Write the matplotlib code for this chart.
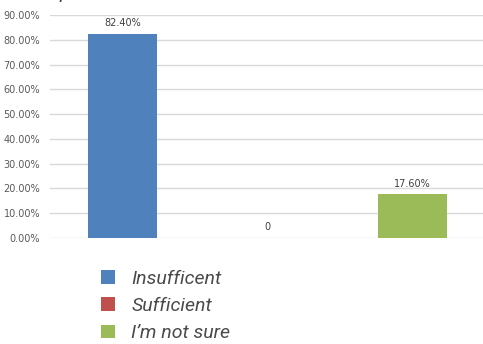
import matplotlib
matplotlib.use("Agg")
import matplotlib.pyplot as plt

categories = ["Insufficent", "Sufficient", "I’m not sure"]
values = [82.4, 0.0, 17.6]
value_labels = ["82.40%", "0", "17.60%"]
colors = ["#4F81BD", "#C0504D", "#9BBB59"]
yticks = [0, 10, 20, 30, 40, 50, 60, 70, 80, 90]
ytick_labels = ["0.00%", "10.00%", "20.00%", "30.00%", "40.00%", "50.00%",
                "60.00%", "70.00%", "80.00%", "90.00%"]

W, H = 483, 344
fig = plt.figure(figsize=(W / 100, H / 100), dpi=100)
ax = fig.add_axes([50 / W, (H - 238) / H, 435 / W, (238 - 15) / H])

x = list(range(len(categories)))
bars = ax.bar(x, values, width=0.48, color=colors, zorder=3)
ax.set_xlim(-0.5, 2.5)
ax.set_ylim(0, 90)
ax.set_yticks(yticks)
ax.set_yticklabels(ytick_labels, fontsize=7, color="#595959", family="DejaVu Sans")
ax.set_xticks([])
ax.tick_params(axis="y", length=0, pad=7)
for s in ax.spines.values():
    s.set_visible(False)
ax.grid(axis="y", color="#D9D9D9", linewidth=1, zorder=0)

for xi, v, lab in zip(x, values, value_labels):
    ax.annotate(lab, (xi, v), xytext=(0, 4 if v > 0 else 4.5), textcoords="offset points",
                ha="center", va="bottom", fontsize=7, color="#404040")

# cut-off title at top
fig.text(48 / W, 1 + 2 / H, "Options", fontsize=14, style="italic", family="Roboto",
         color="#404040", ha="left", va="baseline")

leg = fig.legend(bars.patches, categories, loc="upper left",
                 bbox_to_anchor=(101 / W, 1 - 270 / H), frameon=False,
                 prop={"family": "Roboto", "style": "italic", "size": 14},
                 handlelength=0.72, handleheight=0.72, handletextpad=0.83,
                 labelspacing=0.47, borderpad=0, borderaxespad=0)
for t in leg.get_texts():
    t.set_color("#4A4A4A")

fig.savefig("out.png", dpi=100)
